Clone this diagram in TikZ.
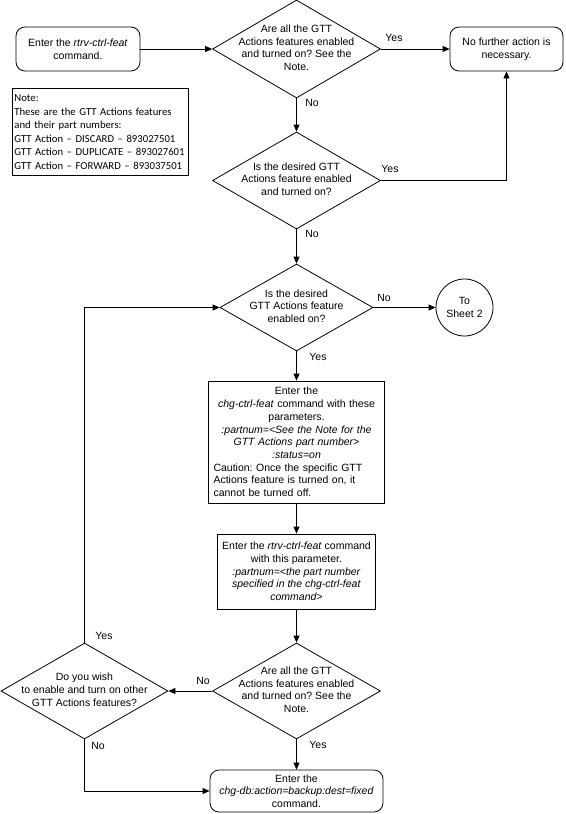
\documentclass[tikz,border=0pt]{standalone}
\usepackage{fontspec}
\setmainfont{Liberation Sans}
\newfontfamily\notefont{Carlito}
\usetikzlibrary{shapes.geometric,arrows.meta}
\frenchspacing
\newcommand\dtext[1]{\makebox[0pt]{\smash{\raisebox{-2.6pt}{\begin{tabular}{@{}c@{}}#1\end{tabular}}}}}
\begin{document}
\begin{tikzpicture}[x=1pt,y=-1pt,
  every node/.style={font=\fontsize{10.5}{12.7}\selectfont\frenchspacing, inner sep=0pt},
  box/.style={draw, line width=0.8pt, align=center},
  rbox/.style={box, rounded corners=9pt},
  dia/.style={draw, line width=0.8pt, diamond, inner sep=0pt},
  conn/.style={draw, line width=0.8pt, -{Triangle[length=7pt,width=6pt]}},
  plain/.style={draw, line width=0.8pt},
  lbl/.style={font=\fontsize{10.5}{12.7}\selectfont}
]
\useasboundingbox[fill=white] (0,0) rectangle (565,814);

% nodes
\node[rbox, minimum width=124pt, minimum height=44pt] (start) at (78,49)
  {Enter the \textit{rtrv-ctrl-feat}\\command.};
\node[dia, minimum width=168pt, minimum height=98pt] (d1) at (296.5,49)
  {\dtext{Are all the GTT\\Actions features enabled\\and turned on? See the\\Note.}};
\node[rbox, minimum width=113pt, minimum height=44pt] (done) at (506.5,49)
  {No further action is\\necessary.};
\node[draw, line width=0.8pt, anchor=north west, text width=172pt, inner xsep=2pt,
      inner ysep=3pt, minimum height=87pt, align=left,
      font=\notefont\fontsize{10.7}{13.5}\selectfont] (note) at (12,88)
  {Note:\\These are the GTT Actions features\\and their part numbers:\\GTT Action – DISCARD – 893027501\\GTT Action – DUPLICATE – 893027601\\GTT Action – FORWARD – 893037501};
\node[dia, minimum width=168pt, minimum height=97pt] (d2) at (296.5,180.5)
  {\dtext{Is the desired GTT\\Actions feature enabled\\and turned on?}};
\node[dia, minimum width=153pt, minimum height=87pt] (d3) at (296.5,307.5)
  {\dtext{Is the desired\\GTT Actions feature\\enabled on?}};
\node[draw, circle, line width=0.8pt, minimum size=57pt, align=center] (sheet) at (464.5,307.5)
  {To\\Sheet 2};
\node[draw, line width=0.8pt, text width=166pt, inner xsep=5pt, minimum height=122pt] (chg) at (296.5,442)
  {{\centering Enter the\\\textit{chg-ctrl-feat} command with these\\parameters.\\\textit{:partnum=<See the Note for the}\\\textit{GTT Actions part number>}\\\textit{:status=on}\par}%
   {\raggedright Caution: Once the specific GTT\\Actions feature is turned on, it\\cannot be turned off.\par}};
\node[box, minimum width=158pt, minimum height=75pt] (rtrv) at (296.5,571.5)
  {Enter the \textit{rtrv-ctrl-feat} command\\with this parameter.\\\textit{:partnum=<the part number}\\\textit{specified in the chg-ctrl-feat}\\\textit{command>}};
\node[dia, minimum width=168pt, minimum height=96pt] (d4) at (296.5,691)
  {\dtext{Are all the GTT\\Actions features enabled\\and turned on? See the\\Note.}};
\node[dia, minimum width=167pt, minimum height=96pt] (d5) at (84.5,691)
  {\dtext{Do you wish\\to enable and turn on other\\GTT Actions features?}};
\node[rbox, minimum width=173pt, minimum height=42pt] (endb) at (296.5,791)
  {Enter the\\\textit{chg-db:action=backup:dest=fixed}\\command.};

% connectors
\draw[conn] (start.east) -- (d1.west);
\draw[conn] (d1.east) -- (done.west);
\draw[conn] (d1.south) -- (d2.north);
\draw[conn] (d2.east) -| (done.south);
\draw[conn] (d2.south) -- (d3.north);
\draw[conn] (d3.east) -- (sheet.west);
\draw[conn] (d3.south) -- (chg.north);
\draw[conn] (chg.south) -- (rtrv.north);
\draw[conn] (rtrv.south) -- (d4.north);
\draw[conn] (d4.west) -- (d5.east);
\draw[conn] (d4.south) -- (endb.north);
\draw[conn] (d5.north) |- (d3.west);
\draw[conn] (d5.south) |- (endb.west);

% labels
\node[lbl] (l1) at (394,38) {Yes};
\node[lbl] (l2) at (312,103) {No};
\node[lbl] (l3) at (390,169) {Yes};
\node[lbl] (l4) at (312,234) {No};
\node[lbl] (l5) at (384,298) {No};
\node[lbl] (l6) at (318,357) {Yes};
\node[lbl] (l7) at (104,636) {Yes};
\node[lbl] (l8) at (203,681) {No};
\node[lbl] (l9) at (98,746) {No};
\node[lbl] (l10) at (318,745) {Yes};
\end{tikzpicture}
\end{document}
